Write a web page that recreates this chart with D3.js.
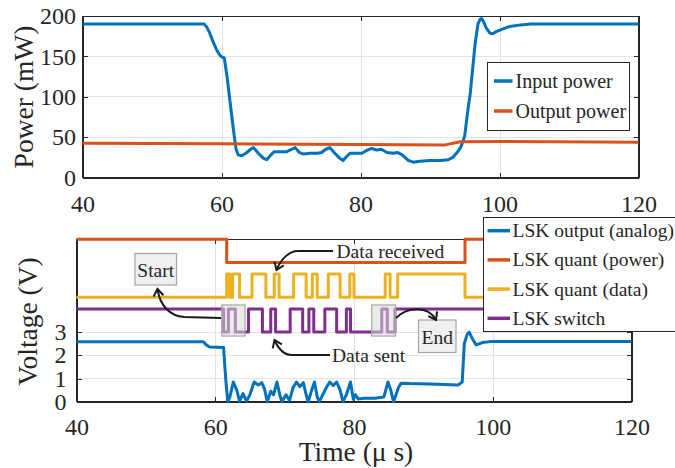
<!DOCTYPE html>
<html>
  <head>
    <meta charset="utf-8">
    <script src="https://cdn.jsdelivr.net/npm/d3@7"></script>
    <style type="text/css">
    body { margin: 0; background: #fff; }
    text { font-family: "Liberation Serif", "Times New Roman", serif; fill: #262626; }
    .axis path, .axis line { stroke: #262626; shape-rendering: crispEdges; }
    .axis text { font-size: 24px; font-family: "Liberation Serif", "Times New Roman", serif; fill: #262626; }
    .grid line { stroke: #e3e3e3; stroke-width: 1; shape-rendering: crispEdges; }
    .trace { fill: none; stroke-width: 3; stroke-linejoin: round; }
    .legend text { font-size: 19.5px; }
    .note { font-size: 19.5px; }
    </style>
  </head>
  <body>
    <script type="text/javascript">
      // ticks
      var timeTicks = [40, 60, 80, 100, 120];
      var powerTicks = [0, 50, 100, 150, 200];
      var voltTicks = [0, 1, 2, 3];

      // top panel: input / output power (mW)
      var inPowerT = [40, 57.5, 57.9, 58.3, 58.8, 59.3, 59.8, 60.1, 60.4, 60.8, 61.2, 61.7, 62.1, 62.4, 62.9, 63.5, 64.2, 64.6, 65.3, 66.0, 66.5, 67.0, 67.6, 68.5, 69.4, 70.1, 70.6, 71.2, 71.8, 72.8, 73.8, 74.4, 75.0, 75.6, 76.2, 77.0, 77.5, 78.0, 78.5, 79.5, 80.2, 81.0, 81.6, 82.3, 83.0, 83.8, 84.7, 85.3, 86.0, 86.9, 87.6, 88.5, 90, 91.5, 92.6, 93.3, 93.8, 94.4, 94.8, 95.0, 95.4, 95.8, 96.2, 96.5, 96.9, 97.2, 97.4, 97.7, 98.1, 98.6, 99.0, 99.6, 100.5, 101.5, 103, 104.5, 120];
      var inPowerV = [190, 190, 186, 179, 168, 158, 151, 149, 148, 125, 96, 60, 35, 28, 27, 30, 35, 37, 30, 24, 22, 27, 32, 32, 32, 35, 37, 31, 29, 30, 30, 31, 35, 37, 31, 24, 21, 26, 30, 30, 30, 34, 36, 34, 35, 31, 30, 31, 28, 21, 19, 20, 21, 21, 22, 25, 30, 37, 46, 52, 80, 105, 140, 166, 190, 196, 197, 193, 185, 179, 178, 181, 184, 187, 189, 190, 190];
      var outPowerT = [40, 60, 80, 92.2, 93.3, 94.4, 100, 120];
      var outPowerV = [42.5, 41.8, 40.8, 40.4, 42.5, 44.3, 44.5, 43.6];

      // bottom panel: LSK signals (V)
      var analogT = [40, 58.3, 58.7, 59.2, 61.2, 61.5, 61.8, 62.1, 62.6, 63.1, 63.5, 64.0, 64.5, 65.0, 65.6, 66.2, 66.7, 67.1, 67.5, 68.0, 68.4, 68.9, 69.3, 69.6, 70.2, 70.7, 71.2, 71.7, 72.2, 72.7, 73.1, 73.4, 73.9, 74.3, 74.7, 75.0, 75.5, 76.0, 76.5, 77.0, 77.5, 78.0, 78.4, 78.9, 79.5, 79.9, 80.2, 80.6, 81.5, 83.0, 84.3, 84.9, 85.3, 85.7, 86.4, 86.8, 88, 92, 95, 95.6, 95.9, 96.3, 96.6, 97.0, 97.6, 98.5, 100, 120];
      var analogV = [2.58, 2.58, 2.45, 2.36, 2.34, 1.0, 0.0, 0.2, 0.85, 0.5, 0.02, 0.35, 0.02, 0.3, 0.85, 0.72, 0.82, 0.55, 0.0, 0.45, 0.3, 0.85, 0.3, 0.0, 0.3, 0.05, 0.6, 0.85, 0.65, 0.82, 0.3, 0.0, 0.5, 0.85, 0.2, 0.0, 0.3, 0.6, 0.85, 0.7, 0.85, 0.5, 0.0, 0.3, 0.85, 0.1, 0.3, 0.12, 0.15, 0.15, 0.2, 0.85, 0.5, 0.0, 0.6, 0.8, 0.78, 0.75, 0.72, 0.85, 2.5, 2.9, 3.0, 2.75, 2.45, 2.55, 2.6, 2.6];
      var quantPowerT = [40, 61.65, 96.0, 120];
      var quantPowerV = [7, 6, 7, 7];
      var quantDataT = [40, 61.65, 62.1, 62.5, 63.5, 65.3, 67.3, 68.5, 69.2, 71.3, 73.1, 74.0, 74.7, 76.3, 78.0, 79.4, 80.0, 84.5, 85.2, 86.3, 96.0, 120];
      var quantDataV = [4.5, 5.5, 4.5, 5.5, 4.5, 5.5, 4.5, 5.5, 4.5, 5.5, 4.5, 5.5, 4.5, 5.5, 4.5, 5.5, 4.5, 5.5, 4.5, 5.5, 4.5, 4.5];
      var switchT = [40, 61.2, 61.9, 62.9, 64.8, 66.8, 68.0, 68.7, 70.8, 72.6, 73.5, 74.2, 75.8, 77.5, 78.9, 79.5, 84.0, 84.8, 85.9, 120];
      var switchV = [4, 3, 4, 3, 4, 3, 4, 3, 4, 3, 4, 3, 4, 3, 4, 3, 4, 3, 4, 4];

      var topNames = ["Input power", "Output power"];
      var botNames = ["LSK output (analog)", "LSK quant (power)", "LSK quant (data)", "LSK switch"];
      var colors = ["#0072BD", "#D95319", "#EDB120", "#7E2F8E"];

      var w = 675, h = 468;
      var svg = d3.select("body").append("svg")
                  .attr("width", w)
                  .attr("height", h);

      // arrow head marker
      svg.append("defs").append("marker")
         .attr("id", "head")
         .attr("markerUnits", "userSpaceOnUse")
         .attr("viewBox", "-10 -8 14 16")
         .attr("markerWidth", 14).attr("markerHeight", 16)
         .attr("orient", "auto")
         .append("path")
         .attr("d", "M-7,-5 L0,0 L-7,5")
         .attr("fill", "none").attr("stroke", "#1a1a1a").attr("stroke-width", 2);

      function zip(a, b) { return a.map(function(d, i) { return [d, b[i]]; }); }

      function panel(x, y, xTicks, yTicks, gridY, yPad, xPad) {
        var g = svg.append("g");
        var x0 = x.range()[0], x1 = x.range()[1], y0 = y.range()[0], y1 = y.range()[1];
        var fmt = d3.format("d");
        // grid
        g.append("g").attr("class", "grid").selectAll("line")
          .data(xTicks.slice(1, -1)).enter().append("line")
          .attr("x1", function(d) { return Math.round(x(d)) + 0.5; })
          .attr("x2", function(d) { return Math.round(x(d)) + 0.5; })
          .attr("y1", y0).attr("y2", y1);
        g.append("g").attr("class", "grid").selectAll("line")
          .data(gridY).enter().append("line")
          .attr("y1", function(d) { return y(d); })
          .attr("y2", function(d) { return y(d); })
          .attr("x1", x0).attr("x2", x1);
        // axes, ticks pointing inward
        g.append("g").attr("class", "axis")
          .attr("transform", "translate(0," + y0 + ")")
          .call(d3.axisBottom(x).tickValues(xTicks).tickSize(-5).tickSizeOuter(0).tickPadding(xPad).tickFormat(fmt));
        g.append("g").attr("class", "axis")
          .attr("transform", "translate(0," + y1 + ")")
          .call(d3.axisTop(x).tickValues(xTicks).tickSize(-5).tickSizeOuter(0).tickFormat(""));
        g.append("g").attr("class", "axis")
          .attr("transform", "translate(" + x0 + ",0)")
          .call(d3.axisLeft(y).tickValues(yTicks).tickSize(-5).tickSizeOuter(0).tickPadding(yPad).tickFormat(fmt));
        g.append("g").attr("class", "axis")
          .attr("transform", "translate(" + x1 + ",0)")
          .call(d3.axisRight(y).tickValues(yTicks).tickSize(-5).tickSizeOuter(0).tickFormat(""));
        g.selectAll(".axis").attr("font-family", null).attr("font-size", null);
        g.append("rect")
          .attr("x", x0).attr("y", y1).attr("width", x1 - x0).attr("height", y0 - y1)
          .attr("fill", "none").attr("stroke", "#262626").attr("shape-rendering", "crispEdges");
        return g;
      }

      // ---------- top panel ----------
      var xTop = d3.scaleLinear().domain([40, 120]).range([82.5, 638.5]);
      var yTop = d3.scaleLinear().domain([0, 200]).range([177.5, 16]);
      var gTop = panel(xTop, yTop, timeTicks, powerTicks, [50, 100, 150], 6.5, 17);

      var lineTop = d3.line().x(function(d) { return xTop(d[0]); }).y(function(d) { return yTop(d[1]); });
      gTop.append("path").attr("class", "trace").attr("stroke", colors[0]).attr("d", lineTop(zip(inPowerT, inPowerV)));
      gTop.append("path").attr("class", "trace").attr("stroke", colors[1]).attr("d", lineTop(zip(outPowerT, outPowerV)));

      svg.append("text")
         .attr("transform", "translate(33," + 97 + ") rotate(-90)")
         .attr("text-anchor", "middle")
         .style("font-size", "27.5px")
         .text("Power (mW)");

      var legTop = svg.append("g").attr("class", "legend");
      legTop.append("rect").attr("x", 487.5).attr("y", 62.5).attr("width", 142).attr("height", 68)
            .attr("fill", "#fff").attr("stroke", "#262626");
      topNames.forEach(function(n, i) {
        var yy = 81 + i * 30;
        legTop.append("line").attr("x1", 494).attr("x2", 512.5).attr("y1", yy).attr("y2", yy)
              .attr("stroke", colors[i]).attr("stroke-width", 3.5);
        legTop.append("text").attr("x", 515.5).attr("y", yy + 6.5).style("font-size", "20px").text(n);
      });

      // ---------- bottom panel ----------
      var xBot = d3.scaleLinear().domain([40, 120]).range([76.5, 631.5]);
      var yBot = d3.scaleLinear().domain([0, 7]).range([401.7, 239.3]);
      var gBot = panel(xBot, yBot, timeTicks, voltTicks, [1, 2, 3], 10, 16);

      var lineBot = d3.line().x(function(d) { return xBot(d[0]); }).y(function(d) { return yBot(d[1]); });
      var stepBot = d3.line().curve(d3.curveStepAfter).x(function(d) { return xBot(d[0]); }).y(function(d) { return yBot(d[1]); });
      gBot.append("path").attr("class", "trace").attr("stroke", colors[0]).attr("d", lineBot(zip(analogT, analogV)));
      gBot.append("path").attr("class", "trace").attr("stroke", colors[1]).attr("d", stepBot(zip(quantPowerT, quantPowerV)));
      gBot.append("path").attr("class", "trace").attr("stroke", colors[2]).attr("d", stepBot(zip(quantDataT, quantDataV)));
      gBot.append("path").attr("class", "trace").attr("stroke", colors[3]).attr("d", stepBot(zip(switchT, switchV)));

      // start / end marker boxes on the switch trace
      [[60.93, 64.29], [82.55, 86.0]].forEach(function(b) {
        gBot.append("rect")
            .attr("x", xBot(b[0])).attr("y", yBot(4.17))
            .attr("width", xBot(b[1]) - xBot(b[0])).attr("height", yBot(2.83) - yBot(4.17))
            .attr("fill", "#d9d9d9").attr("fill-opacity", 0.55)
            .attr("stroke", "#a6a6a6").attr("stroke-width", 1.2);
      });

      // annotations
      var notes = svg.append("g");
      function labelBox(x0, y0, x1, y1, txt, base) {
        notes.append("rect").attr("x", x0).attr("y", y0).attr("width", x1 - x0).attr("height", y1 - y0)
             .attr("fill", "#f0f0f0").attr("stroke", "#a6a6a6").attr("stroke-width", 1.2);
        notes.append("text").attr("class", "note").attr("x", (x0 + x1) / 2).attr("y", base)
             .attr("text-anchor", "middle").text(txt);
      }
      labelBox(135, 253.5, 176.5, 285, "Start", 276.5);
      labelBox(418.5, 320, 456, 352.5, "End", 343.5);

      function arrow(d) {
        notes.append("path").attr("d", d).attr("fill", "none")
             .attr("stroke", "#1a1a1a").attr("stroke-width", 2)
             .attr("marker-end", "url(#head)");
      }
      arrow("M221,318 L184,317 C170,316 160,306 157.5,289");
      arrow("M333,251 L298,251 C289,251 281,259 276.5,270");
      arrow("M330,355 L292,355 C284,355 278,348 274.5,340");
      arrow("M396,318 C407,307 428,305 436,320");

      notes.append("text").attr("class", "note").attr("x", 336.5).attr("y", 257.5).text("Data received");
      notes.append("text").attr("class", "note").attr("x", 332).attr("y", 361.5).text("Data sent");

      svg.append("text")
         .attr("transform", "translate(37," + 321.5 + ") rotate(-90)")
         .attr("text-anchor", "middle")
         .style("font-size", "27.5px")
         .text("Voltage (V)");
      svg.append("text")
         .attr("x", 356).attr("y", 461)
         .attr("text-anchor", "middle")
         .style("font-size", "27.5px")
         .text("Time (\u03BC s)");

      var legBot = svg.append("g").attr("class", "legend");
      legBot.append("rect").attr("x", 483.5).attr("y", 217.5).attr("width", 200).attr("height", 114)
            .attr("fill", "#fff").attr("stroke", "#262626");
      botNames.forEach(function(n, i) {
        var yy = 230.7 + i * 29.2;
        legBot.append("line").attr("x1", 487.5).attr("x2", 510).attr("y1", yy).attr("y2", yy)
              .attr("stroke", colors[i]).attr("stroke-width", 3.5);
        legBot.append("text").attr("x", 512.5).attr("y", yy + 6.5).text(n);
      });
    </script>
  </body>
</html>
